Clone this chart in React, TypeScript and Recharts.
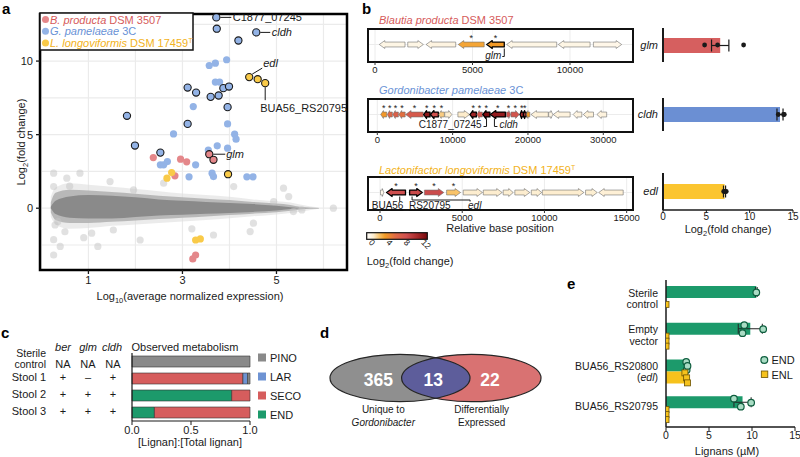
import React from 'react';
import {
  ComposedChart, XAxis, YAxis, Scatter, Area, Bar, ErrorBar,
  CartesianGrid, ReferenceArea,
} from 'recharts';

const FONT = '"Liberation Sans", Arial, Helvetica, sans-serif';
const INK = '#1a1a1a';

/* ================= panel a data ================= */
const CLOUD_X = [0.2, 0.3, 0.6, 1.0, 1.5, 2.0, 2.5, 3.0, 3.5, 4.0, 4.5, 5.0, 5.3, 5.5, 5.9];
const HALO_LO = [-0.6, -1.1, -1.4, -1.35, -1.2, -1.1, -1.0, -0.9, -0.8, -0.68, -0.55, -0.42, -0.33, -0.24, -0.04];
const HALO_HI = [0.8, 1.4, 1.7, 1.6, 1.45, 1.3, 1.15, 1.0, 0.9, 0.78, 0.6, 0.47, 0.38, 0.25, 0.04];
const MID_LO = [-0.3, -0.8, -1.0, -1.0, -0.92, -0.83, -0.74, -0.65, -0.56, -0.47, -0.37, -0.27, -0.18, -0.08, 0];
const MID_HI = [0.4, 1.05, 1.25, 1.2, 1.1, 0.98, 0.85, 0.75, 0.65, 0.55, 0.42, 0.32, 0.22, 0.1, 0.02];
const CORE_LO = [0, -0.4, -0.65, -0.7, -0.7, -0.6, -0.5, -0.45, -0.38, -0.32, -0.25, -0.15, -0.05, 0, 0];
const CORE_HI = [0.1, 0.5, 0.8, 0.9, 0.85, 0.75, 0.6, 0.5, 0.42, 0.35, 0.28, 0.17, 0.06, 0.01, 0.01];

const GRAY_X = [0.26, 0.26, 0.29, 0.26, 0.26, 0.4, 0.82, 0.54, 1.07, 1.46, 1.53, 2.1, 1.96, 3.66, 4.09, 4.51, 5.36, 5.54, 6.21, 4.94, 5.15, 5.26, 4.44, 0.5, 0.9, 2.6, 3.2, 1.2, 0.35, 0.6];
const GRAY_Y = [2.38, 1.47, -1.14, -2.14, -3.18, -2.6, 2.38, 2.04, -1.7, 1.81, -1.48, -2.16, 1.24, -1.82, 1.47, -1.02, -0.23, -0.12, 0.0, 0.45, 1.36, 0.79, -1.59, -1.6, -2.0, 1.7, -1.4, -2.6, -0.9, 1.5];

const BLUE_X = [3.57, 3.70, 3.94, 3.70, 3.79, 3.23, 3.96, 2.81, 4.11, 4.14, 3.74, 3.96, 3.55, 2.68, 2.53, 2.60, 3.28, 3.14, 3.63, 3.66, 4.37, 4.50];
const BLUE_Y = [9.7, 9.86, 10.09, 8.57, 8.57, 6.91, 5.73, 5.05, 5.03, 4.69, 4.24, 4.08, 3.95, 3.17, 2.95, 2.95, 2.95, 2.13, 2.38, 2.15, 2.13, 2.13];
const BLUE_HL_X = [3.72, 3.73, 4.57, 4.19, 3.11, 3.29, 3.60, 3.77, 3.87, 3.99, 3.96, 1.82, 3.11, 1.99, 2.53];
const BLUE_HL_Y = [12.97, 12.2, 11.95, 11.4, 8.2, 7.86, 7.57, 7.66, 8.16, 8.27, 6.87, 6.28, 5.73, 4.26, 3.78];
const RED_X = [2.38, 2.96, 3.09, 2.84, 3.28, 3.22];
const RED_Y = [3.44, 3.33, 3.15, 2.2, -3.18, -3.45];
const RED_HL_X = [3.57, 3.66];
const RED_HL_Y = [3.67, 3.29];
const YEL_X = [2.77, 2.67, 3.28, 3.38];
const YEL_Y = [2.42, 2.04, -2.16, -2.09];
const YEL_HL_X = [4.42, 4.60, 4.76, 3.97];
const YEL_HL_Y = [8.91, 8.77, 8.5, 2.31];

const A_LABEL_NAMES = ['C1877_07245', 'cldh', 'edl', 'BUA56_RS20795', 'glm'];
const A_LABEL_X = [3.72, 4.57, 4.42, 4.76, 3.57];
const A_LABEL_Y = [12.97, 11.95, 8.91, 8.5, 3.67];

/* ================= panel b data ================= */
const B_START = [220, 1680, 2620, 4270, 5730, 6750, 9400, 11200];
const B_END = [1540, 2480, 4140, 5600, 6630, 9320, 11030, 12650];
const B_STRAND = [-1, 1, -1, -1, -1, -1, -1, 1];
const B_FC = [0.3, 0.3, 0.4, 3.3, 3.7, 0.3, 0.3, 0.2];
const B_DE = [0, 0, 0, 1, 1, 0, 0, 0];
const B_HL = [0, 0, 0, 0, 1, 0, 0, 0];
const B_LABEL_NAMES = ['glm'];
const B_LABEL_X = [6630];

const G_START = [450, 1330, 2050, 2850, 3750, 6150, 7050, 8150, 8950, 10700, 12300, 13200, 14000, 15000, 17150, 17750, 18950, 19400, 19800, 20400, 22750, 23350, 26000, 27350, 29150];
const G_END = [1250, 2000, 2800, 3700, 6100, 7000, 8100, 8900, 9900, 12250, 13150, 13950, 14950, 17000, 17700, 18850, 19400, 19750, 20250, 22700, 23300, 25600, 27150, 28700, 30450];
const G_STRAND = [-1, -1, -1, -1, -1, -1, -1, -1, 1, 1, -1, -1, -1, -1, 1, 1, -1, -1, -1, -1, 1, -1, -1, -1, -1];
const G_FC = [3.8, 6.3, 6.9, 5.7, 7.6, 12.2, 8.2, 2.0, 0.8, 1.0, 11.4, 7.9, 12.97, 11.95, 8.3, 7.9, 11.0, 8.2, 3.6, 0.6, 0.3, 0.5, 0.4, 0.6, 0.5];
const G_DE = [1, 1, 1, 1, 1, 1, 1, 1, 0, 0, 1, 1, 1, 1, 1, 1, 1, 1, 0, 0, 0, 0, 0, 0, 0];
const G_HL = [0, 0, 0, 0, 0, 1, 1, 0, 0, 0, 1, 0, 1, 1, 0, 0, 1, 1, 0, 0, 0, 0, 0, 0, 0];
const G_LABEL_NAMES = ['C1877_07245', 'cldh'];
const G_LABEL_X = [14500, 15550];

const L_START = [30, 400, 1800, 2700, 4050, 5060, 6280, 7490, 8200, 9200, 9870, 12500, 13300];
const L_END = [230, 1550, 2570, 3880, 4900, 6230, 7430, 8100, 9110, 9830, 12400, 13210, 14790];
const L_STRAND = [1, -1, 1, 1, 1, 1, 1, 1, 1, 1, 1, 1, -1];
const L_FC = [0.1, 8.5, 8.9, 8.77, 2.31, 0.9, 0.9, 0.8, 0.9, 0.8, 0.9, 0.8, 0.7];
const L_DE = [0, 1, 1, 1, 1, 0, 0, 0, 0, 0, 0, 0, 0];
const L_HL = [0, 1, 1, 0, 0, 0, 0, 0, 0, 0, 0, 0, 0];
const L_LABEL_NAMES = ['BUA56_RS20795', 'edl'];
const L_LABEL_X = [1200, 1950];

const FC_GENES = ['glm', 'cldh', 'edl'];
const FC_MEAN = [6.6, 13.5, 7.1];
const FC_ERR = [1.0, 0.35, 0.12];
const FC_REPS = [[4.8, 6.3, 9.3], [13.3, 13.9, 14.0], [7.0, 7.15, 7.3]];

/* ================= panel c data ================= */
const C_ROWS = ['Sterile control', 'Stool 1', 'Stool 2', 'Stool 3'];
const C_BER = ['NA', '+', '+', '+'];
const C_GLM = ['NA', '\u2013', '+', '+'];
const C_CLDH = ['NA', '+', '+', '+'];
const C_END = [0, 0, 0.845, 0.19];
const C_SECO = [0, 0.94, 0.155, 0.81];
const C_LAR = [0, 0.04, 0, 0];
const C_PINO = [1, 0.02, 0, 0];
const C_SERIES = ['PINO', 'LAR', 'SECO', 'END'];

/* ================= panel d data ================= */
const VENN_COUNTS = [365, 13, 22];

/* ================= panel e data ================= */
const E_CATS = ['Sterile control', 'Empty vector', 'BUA56_RS20800 (edl)', 'BUA56_RS20795'];
const E_END = [10.5, 9.8, 2.4, 8.9];
const E_ENL = [0, 0, 2.3, 0];
const E_END_ERR = [0.1, 1.4, 0.1, 1.0];
const E_ENL_ERR = [0, 0, 0.15, 0];
const E_END_REPS = [[10.5], [9.1, 8.9, 11.3], [2.35, 2.4, 2.5], [7.9, 8.7, 9.9]];
const E_ENL_REPS = [[0], [0, 0, 0], [2.2, 2.4, 2.5], [0, 0, 0]];

/* ================= styles ================= */
const COL = {
  redPt: '#e4878a', bluePt: '#93b3e6', yelPt: '#f9ca48', grayPt: '#c4c4c4',
  redTxt: '#d65b5b', blueTxt: '#6a92d6', yelTxt: '#f2b221',
  pino: '#8a8a8a', lar: '#6e93d3', seco: '#d65d5d', end: '#1c9a6b', enl: '#f6c21c',
};
const FC_BAR_COLORS = ['#d65f5f', '#6b8fd3', '#fbc530'];
const C_COLORS: Record<string, string> = { PINO: COL.pino, LAR: COL.lar, SECO: COL.seco, END: COL.end };
const GRAD_STOPS = [0, 1, 2.3, 3.6, 6, 8.5, 11, 13];
const GRAD_COLORS = ['#fffaf0', '#fdeccb', '#f9c36a', '#f39c26', '#e06a45', '#cf4f4f', '#a82a2a', '#7d0c10'];

function hex2rgb(h: string) { return [1, 3, 5].map((k) => parseInt(h.slice(k, k + 2), 16)); }
function fcColor(v: number) {
  const x = Math.max(GRAD_STOPS[0], Math.min(GRAD_STOPS[GRAD_STOPS.length - 1], v));
  let i = 0;
  while (i < GRAD_STOPS.length - 2 && x > GRAD_STOPS[i + 1]) i++;
  const t = (x - GRAD_STOPS[i]) / (GRAD_STOPS[i + 1] - GRAD_STOPS[i]);
  const a = hex2rgb(GRAD_COLORS[i]), b = hex2rgb(GRAD_COLORS[i + 1]);
  const c = a.map((av, k) => Math.round(av + (b[k] - av) * t));
  return `rgb(${c[0]},${c[1]},${c[2]})`;
}

const pts = (xs: number[], ys: number[]) => xs.map((x, i) => ({ x, y: ys[i] }));

const circ = (fill: string, stroke: string, op = 1, r = 3.6) => (p: any) =>
  p.cx == null || p.cy == null ? <g /> : (
    <circle cx={p.cx} cy={p.cy} r={r} fill={fill} fillOpacity={op} stroke={stroke} strokeWidth={1.1} />
  );

const A_LABEL_STYLE: Record<string, { line: number[]; tx: number; ty: number; it: boolean }> = {
  C1877_07245: { line: [4, 0, 15, 0], tx: 16.5, ty: 4, it: false },
  cldh: { line: [4, 0, 14, 0], tx: 15.5, ty: 4, it: true },
  edl: { line: [3, -3, 13, -9], tx: 14, ty: -10, it: true },
  BUA56_RS20795: { line: [0, 4, 0, 17], tx: -5, ty: 28.5, it: false },
  glm: { line: [4, 0, 16, 0], tx: 17, ty: 4, it: true },
};

const aLabelShape = (p: any) => {
  if (p.cx == null) return <g />;
  const s = A_LABEL_STYLE[p.payload.name];
  return (
    <g>
      <line x1={p.cx + s.line[0]} y1={p.cy + s.line[1]} x2={p.cx + s.line[2]} y2={p.cy + s.line[3]} stroke={INK} strokeWidth={1} />
      <text x={p.cx + s.tx} y={p.cy + s.ty} fontSize={11} fill={INK} fontStyle={s.it ? 'italic' : 'normal'} fontFamily={FONT}>{p.payload.name}</text>
    </g>
  );
};

function PanelA() {
  const cloud = CLOUD_X.map((x, i) => ({
    x, halo: [HALO_LO[i], HALO_HI[i]], mid: [MID_LO[i], MID_HI[i]], core: [CORE_LO[i], CORE_HI[i]],
  }));
  const labels = A_LABEL_NAMES.map((name, i) => ({ name, x: A_LABEL_X[i], y: A_LABEL_Y[i] }));
  const tick = { fontSize: 11, fill: INK, fontFamily: FONT };
  return (
    <div style={{ position: 'absolute', left: 0, top: 0 }}>
      <ComposedChart width={360} height={310} data={cloud} margin={{ top: 14, right: 13, left: 0, bottom: 0 }}>
        <CartesianGrid verticalValues={[0, 1, 2, 3, 4, 5, 6]} horizontalValues={[-2.5, 0, 2.5, 5, 7.5, 10, 12.5]} stroke="#ebebeb" strokeWidth={1.2} />
        <XAxis type="number" dataKey="x" domain={[-0.03, 6.5]} allowDataOverflow ticks={[1, 3, 5]} interval={0}
          height={40} axisLine={false} tickLine={{ stroke: INK, strokeWidth: 1.3 }} tickSize={4} tickMargin={2} tick={tick} />
        <YAxis type="number" dataKey="y" domain={[-4.2, 13.2]} allowDataOverflow ticks={[0, 5, 10]} interval={0}
          width={40} axisLine={false} tickLine={{ stroke: INK, strokeWidth: 1.3 }} tickSize={4} tickMargin={3} tick={tick} />
        <Area dataKey="halo" type="monotone" stroke="none" fill="#dedede" fillOpacity={0.6} dot={false} activeDot={false} isAnimationActive={false} />
        <Area dataKey="mid" type="monotone" stroke="none" fill="#ababab" fillOpacity={0.8} dot={false} activeDot={false} isAnimationActive={false} />
        <Area dataKey="core" type="monotone" stroke="none" fill="#8a8a8a" fillOpacity={1} dot={false} activeDot={false} isAnimationActive={false} />
        <Scatter data={pts(GRAY_X, GRAY_Y)} shape={circ(COL.grayPt, 'none', 0.5)} isAnimationActive={false} />
        <Scatter data={pts(BLUE_X, BLUE_Y)} shape={circ(COL.bluePt, 'none')} isAnimationActive={false} />
        <Scatter data={pts(RED_X, RED_Y)} shape={circ(COL.redPt, 'none')} isAnimationActive={false} />
        <Scatter data={pts(YEL_X, YEL_Y)} shape={circ(COL.yelPt, 'none')} isAnimationActive={false} />
        <Scatter data={pts(BLUE_HL_X, BLUE_HL_Y)} shape={circ(COL.bluePt, INK)} isAnimationActive={false} />
        <Scatter data={pts(RED_HL_X, RED_HL_Y)} shape={circ(COL.redPt, INK)} isAnimationActive={false} />
        <Scatter data={pts(YEL_HL_X, YEL_HL_Y)} shape={circ(COL.yelPt, INK)} isAnimationActive={false} />
        <Scatter data={labels} shape={aLabelShape} isAnimationActive={false} />
        <ReferenceArea x1={-0.03} x2={6.5} y1={-4.2} y2={13.2} fill="none" stroke="#000" strokeWidth={2.5} ifOverflow="visible" />
      </ComposedChart>
    </div>
  );
}

/* ================= panel b ================= */
function geneShape(dir: number, fc: number, hl: boolean) {
  return (p: any) => {
    const { x, y, width: w, height: h } = p;
    if (x == null || w == null) return <g />;
    const cy = y + h / 2;
    const bh = h * 0.62;
    const head = Math.min(w * 0.45, 5.5);
    let d: string;
    if (dir > 0) {
      d = `M${x},${cy - bh / 2} L${x + w - head},${cy - bh / 2} L${x + w - head},${y} L${x + w},${cy} L${x + w - head},${y + h} L${x + w - head},${cy + bh / 2} L${x},${cy + bh / 2} Z`;
    } else {
      d = `M${x + w},${cy - bh / 2} L${x + head},${cy - bh / 2} L${x + head},${y} L${x},${cy} L${x + head},${y + h} L${x + head},${cy + bh / 2} L${x + w},${cy + bh / 2} Z`;
    }
    return <path d={d} fill={fcColor(fc)} stroke={hl ? '#000' : '#707070'} strokeWidth={hl ? 1.3 : 0.6} strokeLinejoin="round" />;
  };
}

const asteriskShape = (p: any) =>
  p.cx == null ? <g /> : <text x={p.cx} y={p.cy + 5} textAnchor="middle" fontSize={9} fill={INK} fontFamily={FONT}>*</text>;

const T_LABEL_STYLE: Record<string, { path: string; tx: number; ty: number; anchor: string; it: boolean }> = {
  glm: { path: 'M0,4 V12 H-2', tx: -3, ty: 14, anchor: 'end', it: true },
  C1877_07245: { path: 'M0,4 V12 H-3', tx: -5, ty: 13.5, anchor: 'end', it: false },
  cldh: { path: 'M0,4 V12 H3', tx: 5, ty: 13.5, anchor: 'start', it: true },
  BUA56_RS20795: { path: 'M0,4 V9', tx: -28, ty: 16, anchor: 'start', it: false },
  edl: { path: 'M0,4 V7.5 H58 V9', tx: 56, ty: 16, anchor: 'start', it: true },
};

const trackLabelShape = (p: any) => {
  if (p.cx == null) return <g />;
  const s = T_LABEL_STYLE[p.payload.name];
  return (
    <g>
      <path d={s.path} transform={`translate(${p.cx},${p.cy})`} fill="none" stroke={INK} strokeWidth={1} />
      <text x={p.cx + s.tx} y={p.cy + s.ty} textAnchor={s.anchor as any} fontSize={10} fontStyle={s.it ? 'italic' : 'normal'} fill={INK} fontFamily={FONT}>{p.payload.name}</text>
    </g>
  );
};

const GENE_Y = 0.53;

function Track(props: {
  start: number[]; end: number[]; strand: number[]; fc: number[]; de: number[]; hl: number[];
  labelNames: string[]; labelX: number[]; domain: [number, number]; ticks: number[]; top: number;
}) {
  const { start, end, strand, fc, de, hl, labelNames, labelX, domain, ticks, top } = props;
  const ast = start.map((s, i) => ({ x: (s + end[i]) / 2, y: 0.8, de: de[i] })).filter((g) => g.de);
  const labels = labelNames.map((name, i) => ({ name, x: labelX[i], y: GENE_Y }));
  return (
    <div style={{ position: 'absolute', left: 364, top: top - 2 }}>
      <ComposedChart width={287} height={53} margin={{ top: 2, right: 18, left: 4, bottom: 0 }}>
        <CartesianGrid verticalValues={ticks} horizontalValues={[GENE_Y]} stroke="#ececec" strokeWidth={1} />
        <XAxis type="number" dataKey="x" domain={domain} allowDataOverflow ticks={ticks} interval={0} height={18}
          axisLine={false} tickLine={{ stroke: '#333' }} tickSize={3} tickMargin={1}
          tick={{ fontSize: 9.5, fill: INK, fontFamily: FONT }} />
        <YAxis type="number" dataKey="y" domain={[0, 1]} hide />
        {start.map((s, i) => (
          <ReferenceArea key={i} x1={s} x2={end[i]} y1={GENE_Y - 0.12} y2={GENE_Y + 0.12} ifOverflow="visible"
            shape={geneShape(strand[i], fc[i], hl[i] === 1)} />
        ))}
        <Scatter data={ast} shape={asteriskShape} isAnimationActive={false} />
        <Scatter data={labels} shape={trackLabelShape} isAnimationActive={false} />
        <ReferenceArea x1={domain[0]} x2={domain[1]} y1={0} y2={1} fill="none" stroke="#111" strokeWidth={2} ifOverflow="visible" />
      </ComposedChart>
    </div>
  );
}

const blackDot = (p: any) => (p.cx == null ? <g /> : <circle cx={p.cx} cy={p.cy} r={2.4} fill={INK} />);

function FcBar({ i, plotTop, plotH, axis }: { i: number; plotTop: number; plotH: number; axis: boolean }) {
  const data = [{ gene: FC_GENES[i], fc: FC_MEAN[i], err: FC_ERR[i] }];
  const reps = FC_REPS[i].map((v) => ({ gene: FC_GENES[i], fc: v }));
  const axisH = axis ? 16 : 0;
  return (
    <div style={{ position: 'absolute', left: 620, top: plotTop - 2 }}>
      <ComposedChart layout="vertical" width={180} height={plotH + 2 + axisH} data={data} margin={{ top: 2, right: 7, left: 0, bottom: 0 }}>
        <XAxis type="number" dataKey="fc" domain={[0, 15]} allowDataOverflow ticks={[0, 5, 10, 15]} interval={0} hide={!axis}
          height={axisH || 16} axisLine={{ stroke: INK, strokeWidth: 1.5 }} tickLine={{ stroke: INK }} tickSize={3} tickMargin={0}
          tick={{ fontSize: 10, fill: INK, fontFamily: FONT }} />
        <YAxis type="category" dataKey="gene" allowDuplicatedCategory={false} width={43} interval={0}
          axisLine={{ stroke: INK, strokeWidth: 2 }} tickLine={false} tickSize={0} tickMargin={5}
          tick={{ fontSize: 11, fontStyle: 'italic', fill: INK, fontFamily: FONT }} />
        <Bar dataKey="fc" fill={FC_BAR_COLORS[i]} barSize={15} isAnimationActive={false}>
          <ErrorBar dataKey="err" direction="x" width={6} stroke={INK} strokeWidth={1.2} />
        </Bar>
        <Scatter data={reps} shape={blackDot} isAnimationActive={false} />
      </ComposedChart>
    </div>
  );
}

function PanelB() {
  return (
    <>
      <Track start={B_START} end={B_END} strand={B_STRAND} fc={B_FC} de={B_DE} hl={B_HL}
        labelNames={B_LABEL_NAMES} labelX={B_LABEL_X} domain={[-359, 13231]} ticks={[0, 5000, 10000]} top={29} />
      <Track start={G_START} end={G_END} strand={G_STRAND} fc={G_FC} de={G_DE} hl={G_HL}
        labelNames={G_LABEL_NAMES} labelX={G_LABEL_X} domain={[-1235, 33945]} ticks={[0, 10000, 20000, 30000]} top={99} />
      <Track start={L_START} end={L_END} strand={L_STRAND} fc={L_FC} de={L_DE} hl={L_HL}
        labelNames={L_LABEL_NAMES} labelX={L_LABEL_X} domain={[-730, 15385]} ticks={[0, 5000, 10000, 15000]} top={176.5} />
      <FcBar i={0} plotTop={28} plotH={34} axis={false} />
      <FcBar i={1} plotTop={98} plotH={33} axis={false} />
      <FcBar i={2} plotTop={173} plotH={37} axis={true} />
    </>
  );
}

/* ================= panel c ================= */
const C_COLS_X = [63, 88, 113];
const CTick = (p: any) => {
  const i = C_ROWS.indexOf(p.payload.value);
  const y = p.y;
  const two = C_ROWS[i] === 'Sterile control';
  const vy = two ? y + 6 : y + 2.5;
  return (
    <g fontFamily={FONT} fontSize={11} fill={INK}>
      {two ? (
        <text textAnchor="end" fontSize={10.5} fill={INK}>
          <tspan x={46} y={y - 5}>Sterile</tspan>
          <tspan x={46} y={y + 6}>control</tspan>
        </text>
      ) : (
        <text x={46} y={y + 2.5} textAnchor="end" fontSize={11} fill={INK}>{C_ROWS[i]}</text>
      )}
      {[C_BER, C_GLM, C_CLDH].map((arr, k) => (
        <text key={k} x={C_COLS_X[k]} y={vy} textAnchor="middle" fontSize={11} fill={INK}>{arr[i]}</text>
      ))}
    </g>
  );
};

function PanelC() {
  const data = C_ROWS.map((row, i) => ({ row, END: C_END[i], SECO: C_SECO[i], LAR: C_LAR[i], PINO: C_PINO[i] }));
  return (
    <div style={{ position: 'absolute', left: 0, top: 345 }}>
      <ComposedChart layout="vertical" width={258} height={100} data={data} margin={{ top: 8, right: 8, left: 0, bottom: 0 }}>
        <XAxis type="number" domain={[0, 1]} ticks={[0, 0.5, 1]} interval={0} height={24} tickFormatter={(v: number) => v.toFixed(1)}
          axisLine={{ stroke: INK, strokeWidth: 1.2 }} tickLine={{ stroke: INK }} tickSize={4} tickMargin={1}
          tick={{ fontSize: 11, fill: INK, fontFamily: FONT }} />
        <YAxis type="category" dataKey="row" width={132} interval={0} axisLine={{ stroke: INK, strokeWidth: 1.2 }} tickLine={false}
          tick={(p: any) => <CTick {...p} />} />
        {['END', 'SECO', 'LAR', 'PINO'].map((k) => (
          <Bar key={k} dataKey={k} stackId="s" fill={C_COLORS[k]} stroke="#333" strokeWidth={0.6} barSize={11} isAnimationActive={false} />
        ))}
      </ComposedChart>
    </div>
  );
}

/* ================= panel e ================= */
const E_JIT = [-4, 4, 0];
const ENL_JIT = [-5, 0, 5];
const ETick = (p: any) => {
  const v = p.payload.value as string;
  const x = p.x, y = p.y;
  const common = { textAnchor: 'end' as const, fontSize: 10.5, fill: INK, fontFamily: FONT };
  if (v === 'BUA56_RS20800 (edl)') {
    return (
      <text {...common}>
        <tspan x={x} y={y - 1.8}>BUA56_RS20800</tspan>
        <tspan x={x} y={y + 9.5}>(<tspan fontStyle="italic">edl</tspan>)</tspan>
      </text>
    );
  }
  const sp = v.indexOf(' ');
  if (sp > 0) {
    return (
      <text {...common}>
        <tspan x={x} y={y - 1.8}>{v.slice(0, sp)}</tspan>
        <tspan x={x} y={y + 9.5}>{v.slice(sp + 1)}</tspan>
      </text>
    );
  }
  return <text {...common} x={x} y={y + 1}>{v}</text>;
};

const endDot = (p: any) =>
  p.cx == null ? <g /> : <circle cx={p.cx} cy={p.cy - 6 + E_JIT[p.payload.k]} r={3.3} fill="#a9dcc4" stroke="#0f5e3f" strokeWidth={1.2} />;
const enlSq = (p: any) =>
  p.cx == null ? <g /> : <rect x={p.cx - 3} y={p.cy + 6 + ENL_JIT[p.payload.k] - 3} width={6} height={6} fill={COL.enl} stroke="#6b5200" strokeWidth={0.8} />;

function PanelE() {
  const data = E_CATS.map((cat, i) => ({ cat, END: E_END[i], ENL: E_ENL[i], endErr: E_END_ERR[i], enlErr: E_ENL_ERR[i] }));
  const endPts = E_CATS.flatMap((cat, i) => E_END_REPS[i].map((v, k) => ({ cat, v, k: E_END_REPS[i].length === 1 ? 2 : k })));
  const enlPts = E_CATS.flatMap((cat, i) => E_ENL_REPS[i].map((v, k) => ({ cat, v, k: E_ENL_REPS[i].length === 1 ? 1 : k })));
  return (
    <div style={{ position: 'absolute', left: 560, top: 272 }}>
      <ComposedChart layout="vertical" width={240} height={185} data={data} margin={{ top: 8, right: 5, left: 0, bottom: 0 }} barGap={0}>
        <XAxis type="number" dataKey="v" domain={[0, 15]} allowDataOverflow ticks={[0, 5, 10, 15]} interval={0} height={30}
          axisLine={{ stroke: INK, strokeWidth: 1.5 }} tickLine={{ stroke: INK }} tickSize={4} tickMargin={1}
          tick={{ fontSize: 10.5, fill: INK, fontFamily: FONT }} />
        <YAxis type="category" dataKey="cat" allowDuplicatedCategory={false} width={106} interval={0}
          axisLine={{ stroke: INK, strokeWidth: 1.5 }} tickLine={false} tickSize={0} tickMargin={8}
          tick={(p: any) => <ETick {...p} />} />
        <Bar dataKey="END" fill={COL.end} barSize={12} isAnimationActive={false}>
          <ErrorBar dataKey="endErr" direction="x" width={5} stroke="#222" strokeWidth={1} />
        </Bar>
        <Bar dataKey="ENL" fill={COL.enl} barSize={12} isAnimationActive={false}>
          <ErrorBar dataKey="enlErr" direction="x" width={5} stroke="#222" strokeWidth={1} />
        </Bar>
        <Scatter data={endPts} shape={endDot} isAnimationActive={false} />
        <Scatter data={enlPts} shape={enlSq} isAnimationActive={false} />
      </ComposedChart>
    </div>
  );
}

/* ================= overlay (titles, legends, venn) ================= */
function Overlay() {
  const gradVals = [-0.6, 0, 1, 2.3, 3.6, 6, 8.5, 11, 13, 13.3];
  const cbX0 = 366.7, cbX1 = 427.3;
  const cbPos = (v: number) => cbX0 + ((v + 0.6) / 13.9) * (cbX1 - cbX0);
  const legendA = [
    { it: 'B. producta', rest: ' DSM 3507', sup: '', c: COL.redTxt, pt: COL.redPt },
    { it: 'G. pamelaeae', rest: ' 3C', sup: '', c: COL.blueTxt, pt: COL.bluePt },
    { it: 'L. longoviformis', rest: ' DSM 17459', sup: 'T', c: COL.yelTxt, pt: COL.yelPt },
  ];
  return (
    <svg width={800} height={457} style={{ position: 'absolute', left: 0, top: 0, pointerEvents: 'none' }} fontFamily={FONT}>
      <defs>
        <linearGradient id="fcgrad" x1="0" x2="1" y1="0" y2="0">
          {gradVals.map((v) => (
            <stop key={v} offset={(v + 0.6) / 13.9} stopColor={fcColor(v)} />
          ))}
        </linearGradient>
        <clipPath id="vennL"><ellipse cx={400} cy={378} rx={70} ry={23.7} /></clipPath>
      </defs>

      {/* panel letters */}
      <text x={2} y={14} fontSize={15} fontWeight="bold" fill="#000">a</text>
      <text x={362} y={14} fontSize={15} fontWeight="bold" fill="#000">b</text>
      <text x={1} y={338} fontSize={15} fontWeight="bold" fill="#000">c</text>
      <text x={320} y={338} fontSize={15} fontWeight="bold" fill="#000">d</text>
      <text x={567} y={289} fontSize={15} fontWeight="bold" fill="#000">e</text>

      {/* panel a legend */}
      <rect x={40} y={13} width={153} height={37} fill="#fff" stroke="#111" strokeWidth={1.5} />
      {legendA.map((r, i) => (
        <g key={i}>
          <circle cx={45.5} cy={19.5 + i * 11.8} r={3.5} fill={r.pt} />
          <text x={50} y={23.5 + i * 11.8} fontSize={11} fill={r.c}>
            <tspan fontStyle="italic">{r.it}</tspan>
            <tspan>{r.rest}</tspan>
            {r.sup ? <tspan dy={-4} fontSize={7}>{r.sup}</tspan> : null}
          </text>
        </g>
      ))}

      {/* panel a axis titles */}
      <text transform="translate(25,142) rotate(-90)" textAnchor="middle" fontSize={11} fill={INK}>
        <tspan>Log</tspan><tspan dy={3} fontSize={7.5}>2</tspan><tspan dy={-3}>(fold change)</tspan>
      </text>
      <text x={190} y={300} textAnchor="middle" fontSize={11} fill={INK}>
        <tspan>Log</tspan><tspan dy={3} fontSize={7.5}>10</tspan><tspan dy={-3}>(average normalized expression)</tspan>
      </text>

      {/* panel b titles */}
      <text x={379} y={24} fontSize={11} fill={COL.redTxt}>
        <tspan fontStyle="italic">Blautia producta</tspan><tspan> DSM 3507</tspan>
      </text>
      <text x={379} y={94} fontSize={11} fill={COL.blueTxt}>
        <tspan fontStyle="italic">Gordonibacter pamelaeae</tspan><tspan> 3C</tspan>
      </text>
      <text x={379} y={174} fontSize={11} fill={COL.yelTxt}>
        <tspan fontStyle="italic">Lactonifactor longoviformis</tspan><tspan> DSM 17459</tspan><tspan dy={-4} fontSize={7}>T</tspan>
      </text>
      <text x={500} y={232} textAnchor="middle" fontSize={11} fill={INK}>Relative base position</text>
      <text x={728} y={233} textAnchor="middle" fontSize={11} fill={INK}>
        <tspan>Log</tspan><tspan dy={3} fontSize={7.5}>2</tspan><tspan dy={-3}>(fold change)</tspan>
      </text>

      {/* colour bar */}
      <rect x={cbX0} y={232.7} width={cbX1 - cbX0} height={6.6} fill="url(#fcgrad)" stroke="#111" strokeWidth={1.2} />
      {[0, 4, 8, 12].map((v) => (
        <text key={v} transform={`translate(${cbPos(v) - 1},${243}) rotate(45)`} fontSize={8.5} fill={INK} textAnchor="start">{v}</text>
      ))}
      <text x={366.7} y={265} fontSize={11} fill={INK}>
        <tspan>Log</tspan><tspan dy={3} fontSize={7.5}>2</tspan><tspan dy={-3}>(fold change)</tspan>
      </text>

      {/* panel c headers and legend */}
      <text x={63} y={350.5} textAnchor="middle" fontSize={11} fontStyle="italic" fill={INK}>ber</text>
      <text x={88} y={350.5} textAnchor="middle" fontSize={11} fontStyle="italic" fill={INK}>glm</text>
      <text x={112} y={350.5} textAnchor="middle" fontSize={11} fontStyle="italic" fill={INK}>cldh</text>
      <text x={131.5} y={350.5} fontSize={11} fill={INK}>Observed metabolism</text>
      <text x={190} y={445.5} textAnchor="middle" fontSize={11} fill={INK}>[Lignan]:[Total lignan]</text>
      {C_SERIES.map((k, i) => (
        <g key={k}>
          <rect x={258} y={353.5 + i * 19} width={8} height={8} fill={C_COLORS[k]} />
          <text x={270} y={361.8 + i * 19} fontSize={11} fill={INK}>{k}</text>
        </g>
      ))}

      {/* panel d venn */}
      <ellipse cx={471.3} cy={378} rx={69.7} ry={23.7} fill="#d97272" />
      <ellipse cx={400} cy={378} rx={70} ry={23.7} fill="#8f8f8f" />
      <ellipse cx={471.3} cy={378} rx={69.7} ry={23.7} fill="#5d5d9b" clipPath="url(#vennL)" />
      <ellipse cx={400} cy={378} rx={70} ry={23.7} fill="none" stroke="#262626" strokeWidth={1.2} />
      <ellipse cx={471.3} cy={378} rx={69.7} ry={23.7} fill="none" stroke="#262626" strokeWidth={1.2} />
      {[378.3, 433.3, 490].map((x, i) => (
        <text key={i} x={x} y={386} textAnchor="middle" fontSize={17.5} fontWeight="bold" fill="#fff">{VENN_COUNTS[i]}</text>
      ))}
      <text x={383.3} y={413} textAnchor="middle" fontSize={10} fill={INK}>Unique to</text>
      <text x={383.3} y={425.5} textAnchor="middle" fontSize={10} fontStyle="italic" fill={INK}>Gordonibacter</text>
      <text x={481.7} y={413} textAnchor="middle" fontSize={10} fill={INK}>Differentially</text>
      <text x={481.7} y={425.5} textAnchor="middle" fontSize={10} fill={INK}>Expressed</text>

      {/* panel e legend and title */}
      <circle cx={764.3} cy={360} r={3.4} fill="#a9dcc4" stroke="#0f5e3f" strokeWidth={1.2} />
      <text x={771.5} y={364} fontSize={11} fill={INK}>END</text>
      <rect x={761.3} y={371} width={6.5} height={6.5} fill={COL.enl} stroke="#6b5200" strokeWidth={0.8} />
      <text x={771.5} y={378.5} fontSize={11} fill={INK}>ENL</text>
      <text x={727} y={455} textAnchor="middle" fontSize={11} fill={INK}>Lignans (µM)</text>
    </svg>
  );
}

export default function App() {
  return (
    <div style={{ position: 'absolute', left: 0, top: 0, width: 800, height: 457, background: '#fff', fontFamily: FONT, overflow: 'hidden' }}>
      <PanelA />
      <PanelB />
      <PanelC />
      <PanelE />
      <Overlay />
    </div>
  );
}
